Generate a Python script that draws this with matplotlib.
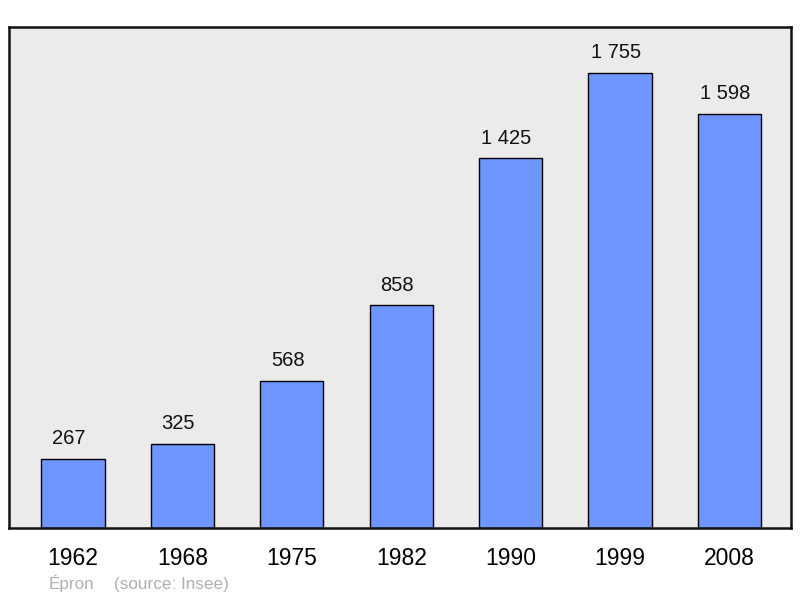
import matplotlib
matplotlib.use("Agg")
import matplotlib.pyplot as plt

# données
years = ["1962", "1968", "1975", "1982", "1990", "1999", "2008"]
population = [267, 325, 568, 858, 1425, 1755, 1598]
town = "Épron"
source = "(source: Insee)"

plt.rcParams['font.family'] = ['Liberation Sans', 'DejaVu Sans']

fig = plt.figure(figsize=(8, 5.98), dpi=100)
ax = fig.add_axes([0.01125, 0.1171, 0.9775, 0.8378])
ax.set_facecolor('#ebebeb')

x = list(range(len(years)))
bars = ax.bar(x, population, width=0.576, color='#6f96ff', edgecolor='black', linewidth=1.0)

for xi, v in zip(x, population):
    label = f"{v:,}".replace(",", " ")
    ax.annotate(label, (xi, v), xytext=(-3, 14.5), textcoords='offset points',
                ha='center', va='center', fontsize=14.5, color='#111111')

ax.set_xlim(-0.585, 6.563)
ax.set_ylim(0, 1932)
ax.set_yticks([])
ax.set_xticks(x)
ax.set_xticklabels(years, fontsize=16.5)
ax.tick_params(axis='x', length=0, pad=14)

for s in ax.spines.values():
    s.set_linewidth(1.8)
    s.set_color('#111111')

fig.text(0.061, 0.0145, town, fontsize=12.3, color='#b0b0b0', ha='left', va='baseline')
fig.text(0.142, 0.0145, source, fontsize=12.3, color='#b0b0b0', ha='left', va='baseline')

fig.savefig("out.png", dpi=100)
